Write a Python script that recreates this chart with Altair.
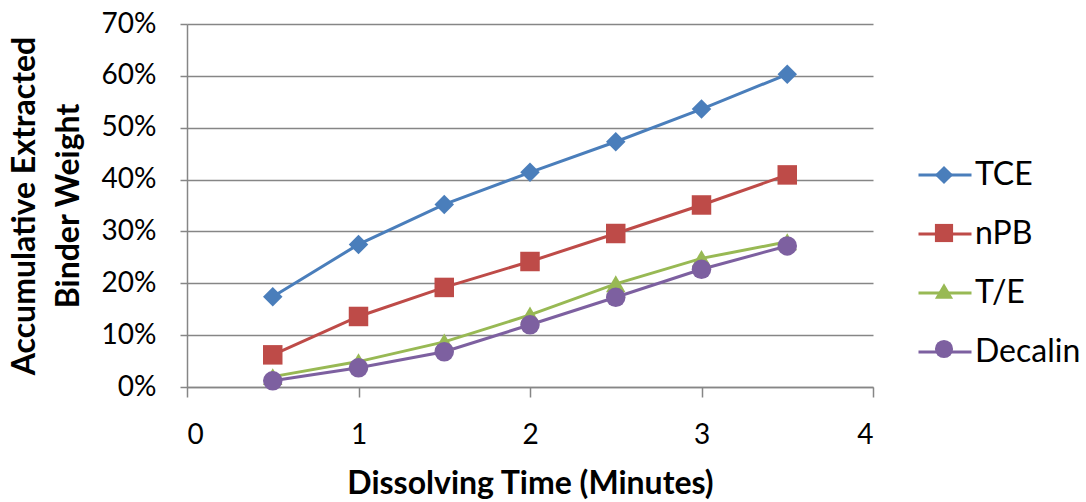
import altair as alt
import pandas as pd

# ---- data ----
times = [0.5, 1.0, 1.5, 2.0, 2.5, 3.0, 3.5]
series_names = ["TCE", "nPB", "T/E", "Decalin"]
tce = [0.174, 0.275, 0.352, 0.414, 0.473, 0.536, 0.603]
npb = [0.062, 0.136, 0.192, 0.242, 0.296, 0.351, 0.409]
te = [0.020, 0.049, 0.087, 0.139, 0.199, 0.248, 0.280]
decalin = [0.012, 0.037, 0.068, 0.120, 0.173, 0.227, 0.272]
x_ticks = [0, 1, 2, 3, 4]
y_ticks = [0.0, 0.1, 0.2, 0.3, 0.4, 0.5, 0.6, 0.7]

colors = ["#4A7EBB", "#BE4B48", "#98B954", "#7D60A0"]
shapes = ["diamond", "square", "triangle-up", "circle"]

rows = []
for name, vals in zip(series_names, [tce, npb, te, decalin]):
    for t, v in zip(times, vals):
        rows.append({"time": t, "value": v, "series": name})
df = pd.DataFrame(rows)

FONT = "Lato"

color_scale = alt.Scale(domain=series_names, range=colors)
shape_scale = alt.Scale(domain=series_names, range=shapes)

x_enc = alt.X(
    "time:Q",
    scale=alt.Scale(domain=[0, 4], nice=False),
    axis=alt.Axis(
        values=x_ticks, format="d", grid=False,
        title="Dissolving Time (Minutes)",
        titleFont=FONT, titleFontSize=32, titleFontWeight="bold", titleColor="#000000",
        titleBaseline="alphabetic", titleY=106,
        labelFont=FONT, labelFontSize=28, labelColor="#000000", labelPadding=24,
        tickSize=10, tickColor="#868686", domainColor="#868686", domainWidth=1.5, tickWidth=1.5,
    ),
)
y_enc = alt.Y(
    "value:Q",
    scale=alt.Scale(domain=[0, 0.7], nice=False),
    axis=alt.Axis(
        values=y_ticks, format=".0%", grid=True, gridColor="#868686", gridWidth=1.5,
        title=["Accumulative Extracted", "Binder Weight"],
        titleFont=FONT, titleFontSize=32, titleFontWeight="bold", titleColor="#000000",
        titleAngle=-90, titleBaseline="alphabetic", titleX=-153, titleLineHeight=44,
        titleAlign="center",
        labelFont=FONT, labelFontSize=28, labelColor="#000000", labelPadding=24,
        tickSize=7, tickColor="#868686", domainColor="#868686", domainWidth=1.5, tickWidth=1.5,
    ),
)

line_legend = alt.Legend(
    title=None, orient="none", legendX=730, legendY=123, padding=0,
    symbolType="stroke", symbolSize=2809, symbolStrokeWidth=3,
    labelFont=FONT, labelFontSize=32, labelColor="#000000", labelOffset=2,
    rowPadding=15,
)
point_legend = alt.Legend(
    title=None, orient="none", legendX=743, legendY=137, padding=0,
    symbolSize=330, symbolStrokeWidth=0,
    labelFont=FONT, labelFontSize=28, labelColor="#000000", labelExpr="''",
    labelOffset=4, rowPadding=30,
)

lines = alt.Chart(df).mark_line(strokeWidth=3).encode(
    x=x_enc, y=y_enc,
    color=alt.Color("series:N", scale=color_scale, legend=line_legend),
)
points = alt.Chart(df).mark_point(filled=True, opacity=1, size=380).encode(
    x=x_enc, y=y_enc,
    color=alt.Color("series:N", scale=color_scale, legend=point_legend),
    shape=alt.Shape("series:N", scale=shape_scale, legend=point_legend),
)

chart = (
    alt.layer(lines, points)
    .resolve_legend(color="independent", shape="independent")
    .properties(
        width=686, height=363,
        padding={"left": 187, "top": 24, "right": 213, "bottom": 115},
        autosize=alt.AutoSizeParams(type="none"),
        background="#ffffff",
    )
    .configure_view(stroke=None)
)

chart.save("out.html", embed_options={"renderer": "svg", "actions": False})
